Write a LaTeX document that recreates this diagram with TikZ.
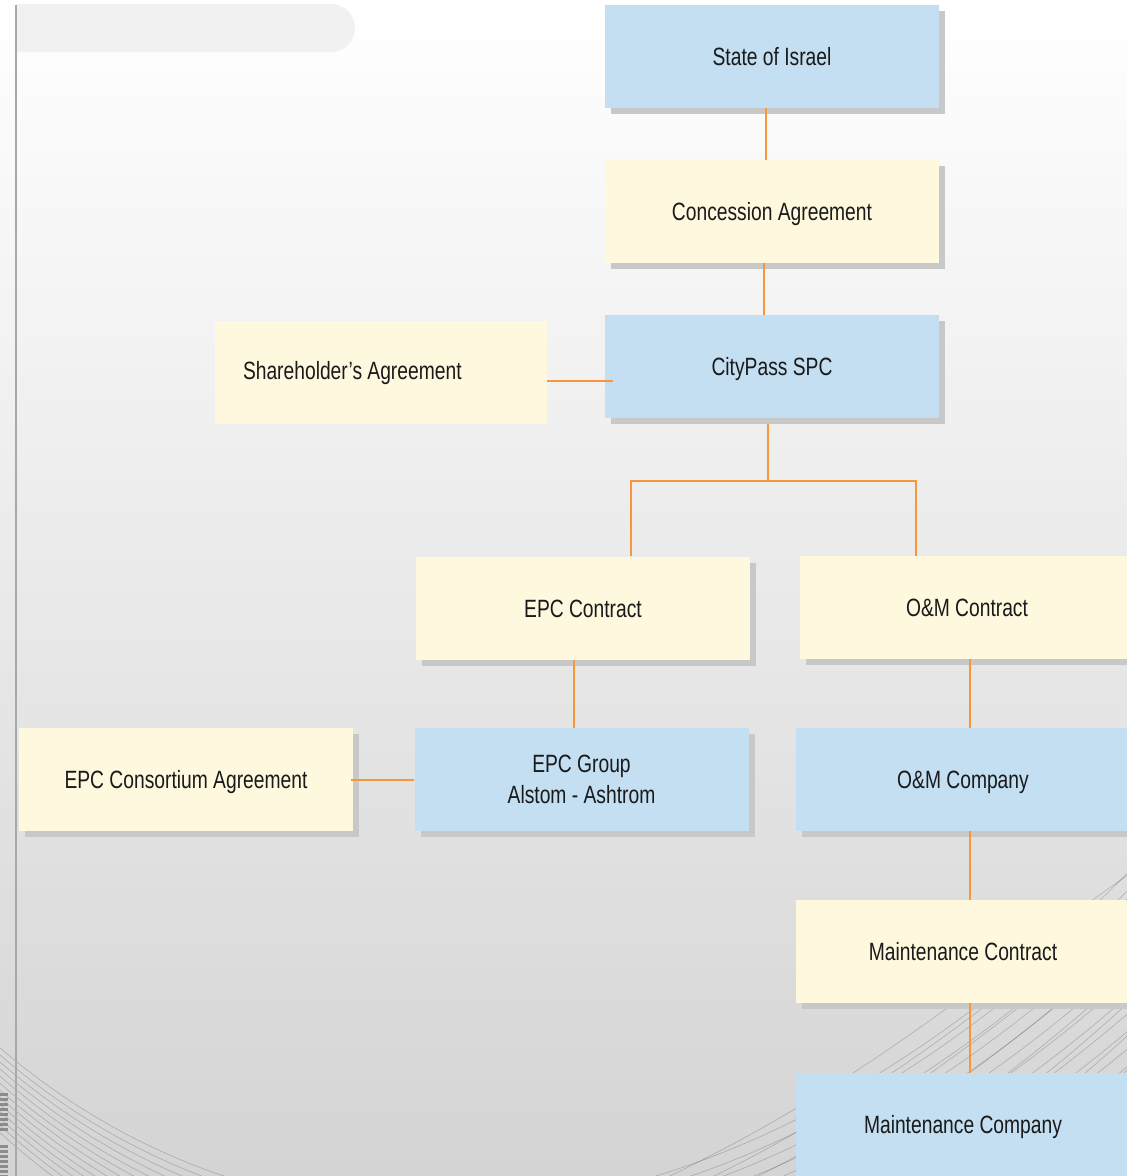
\documentclass[tikz,border=0pt]{standalone}
\usepackage{fontspec}
\setmainfont{Liberation Sans}[FakeStretch=0.77]
\usetikzlibrary{calc,shadows}
\definecolor{boxblue}{RGB}{195,223,241}
\definecolor{boxcream}{RGB}{253,248,222}
\definecolor{conn}{RGB}{247,150,60}
\definecolor{shadowgray}{RGB}{200,200,200}
\definecolor{txt}{RGB}{26,26,26}
\definecolor{bgmid}{RGB}{241,241,241}
\definecolor{bgbot}{RGB}{212,212,212}
\definecolor{pillgray}{RGB}{241,241,241}
\definecolor{leftline}{RGB}{168,168,168}
\begin{document}
\begin{tikzpicture}[x=1pt,y=-1pt,
  box/.style={rectangle, minimum width=334pt, minimum height=103pt, inner sep=0pt,
    align=center, font=\fontsize{25}{31}\selectfont, text=txt},
  oneline/.style={text height=18pt, text depth=0pt},
  bluebox/.style={box, fill=boxblue},
  creambox/.style={box, fill=boxcream},
  shadowed/.style={drop shadow={shadow xshift=6pt, shadow yshift=-6pt, fill=shadowgray, opacity=1}},
  link/.style={draw=conn, line width=1.6pt},
  mesh/.style={draw=black, opacity=0.2, line width=0.6pt}]
\useasboundingbox (0,0) rectangle (1127,1176);
\begin{scope}
\clip (0,0) rectangle (1127,1176);
% background
\shade[top color=white, middle color=bgmid, bottom color=bgbot] (0,0) rectangle (1127,1176);
% wire mesh decoration
\foreach \k in {0,...,12}{
  \draw[mesh] (-20,{1030+7*\k}) .. controls (260,{1290+8*\k}) and (720,{1300+10*\k}) .. (1150,{850+18*\k});
}
\foreach \k in {0,...,10}{
  \draw[mesh] ({640+45*\k},1190) .. controls ({880+40*\k},1080) and ({1000+30*\k},960) .. ({1150+20*\k},{860+10*\k});
}
\foreach \yy in {1093,1098,...,1128,1145,1150,...,1175}{
  \fill[black!45] (0,\yy) rectangle (8,{\yy+2.5});
}
% pill and left rule
\fill[pillgray] (16,4) [rounded corners=24pt] -- (355,4) -- (355,52) [sharp corners] -- (16,52) -- cycle;
\draw[leftline, line width=2pt] (16,5) -- (16,1176);

% nodes
\node[bluebox, oneline, shadowed] (state) at (772,56.5) {State of Israel};
\node[creambox, oneline, shadowed] (conc) at (772,211.5) {Concession Agreement};
\node[bluebox, oneline, shadowed] (city) at (772,366.5) {CityPass SPC};
\node[creambox, text height=18pt, text depth=5pt, minimum width=332pt, text width=276pt, inner xsep=28pt, align=left] (share) at (381,372.5) {\spaceskip=0pt\relax Shareholder’s Agreement};
\node[creambox, oneline, shadowed] (epcc) at (583,608) {EPC Contract};
\node[creambox, oneline, shadowed] (omc) at (967,607.5) {O\&M Contract};
\node[bluebox, shadowed] (epcg) at (581.5,779.5) {EPC Group\\Alstom - Ashtrom};
\node[creambox, oneline, shadowed] (epcca) at (186,779.5) {EPC Consortium Agreement};
\node[bluebox, oneline, shadowed] (omco) at (963,779.5) {O\&M Company};
\node[creambox, oneline, shadowed] (mc) at (963,951.5) {Maintenance Contract};
\node[bluebox, oneline, shadowed] (mco) at (963,1124.5) {Maintenance Company};

% connectors
\coordinate (fork) at (768,481);
\draw[link] ([xshift=-6pt]state.south) -- ([xshift=-6pt]conc.north);
\draw[link] ([xshift=-8pt]conc.south) -- ([xshift=-8pt]city.north);
\draw[link] ($(share.east)+(0,8.5)$) -- ($(share.east -| city.west)+(8,8.5)$);
\draw[link] ([xshift=-4pt,yshift=-6pt]city.south) -- (fork);
\draw[link] ([xshift=48pt]epcc.north) |- (fork) -| ([xshift=-51pt]omc.north);
\draw[link] ([xshift=-9pt]epcc.south) -- ([xshift=-9pt]epcc.south |- epcg.north);
\draw[link] ($(epcca.east)+(-2,0.5)$) -- ($(epcg.west)+(0,0.5)$);
\draw[link] ([xshift=7pt]omco.north |- omc.south) -- ([xshift=7pt]omco.north);
\draw[link] ([xshift=7pt]omco.south) -- ([xshift=7pt]mc.north);
\draw[link] ([xshift=7pt]mc.south) -- ([xshift=7pt]mco.north);
\end{scope}
\end{tikzpicture}
\end{document}
